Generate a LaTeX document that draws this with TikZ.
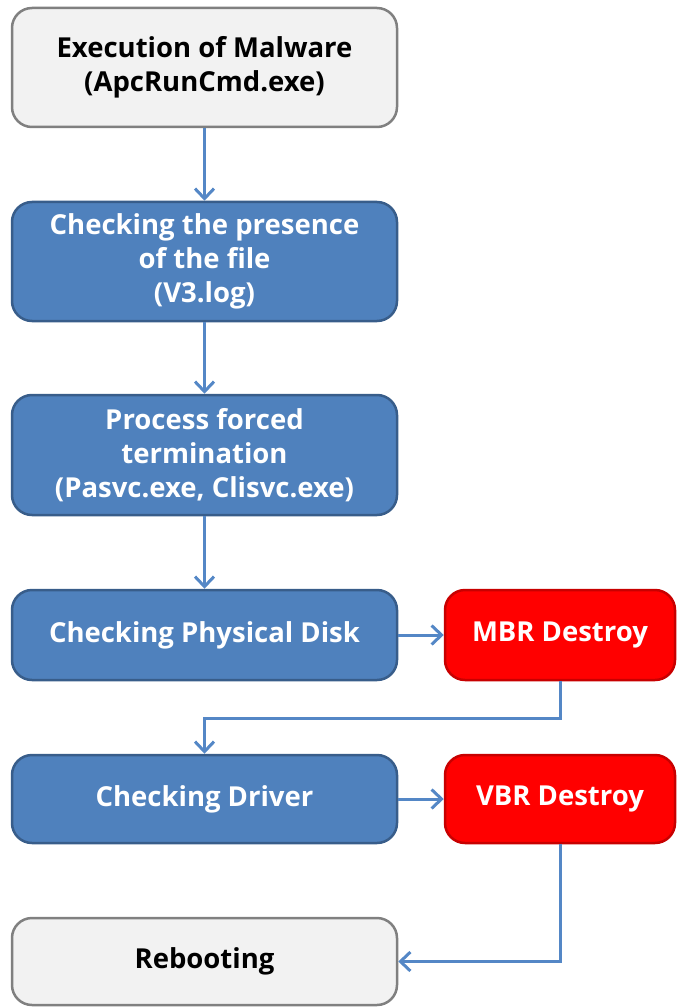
\documentclass[tikz,border=0pt]{standalone}
\usepackage{fontspec}
\setmainfont{Open Sans}
\usetikzlibrary{arrows.meta}
\definecolor{stepblue}{RGB}{79,129,189}
\definecolor{stepblueline}{RGB}{56,93,138}
\definecolor{stepgray}{RGB}{242,242,242}
\definecolor{stepgrayline}{RGB}{128,128,128}
\definecolor{stepred}{RGB}{255,0,0}
\definecolor{stepredline}{RGB}{200,0,0}
\definecolor{flowline}{RGB}{84,135,198}
\begin{document}
\begin{tikzpicture}[x=1pt, y=-1pt,
    box/.style={rounded corners=20pt, line width=2.5pt, align=center,
      font=\fontsize{27.5}{34}\selectfont\bfseries, inner sep=0pt},
    plainbox/.style={box, draw=stepgrayline, fill=stepgray, text=black},
    bluebox/.style={box, draw=stepblueline, fill=stepblue, text=white},
    redbox/.style={box, draw=stepredline, fill=stepred, text=white},
    flow/.style={draw=flowline, line width=3pt,
      -{Straight Barb[length=10pt, width=19pt, line width=3pt]}}]
  \useasboundingbox (0,0) rectangle (677,1008);
  % left column
  \node[plainbox, minimum width=385pt, minimum height=119pt] (exec) at (204.5,67.5)
    {Execution of Malware\\(ApcRunCmd.exe)};
  \node[bluebox, minimum width=385pt, minimum height=119pt] (chkfile) at (204.5,261.5)
    {Checking the presence\\of the file\\(V3.log)};
  \node[bluebox, minimum width=385pt, minimum height=120pt] (kill) at (204.5,455)
    {Process forced\\termination\\(Pasvc.exe, Clisvc.exe)};
  \node[bluebox, minimum width=385pt, minimum height=90pt] (chkdisk) at (204.5,635)
    {Checking Physical Disk};
  \node[bluebox, minimum width=385pt, minimum height=88pt] (chkdrv) at (204.5,799)
    {Checking Driver};
  \node[plainbox, minimum width=385pt, minimum height=87pt] (reboot) at (204.5,961.5)
    {Rebooting};
  % right column
  \node[redbox, minimum width=230pt, minimum height=90pt] (mbr) at (560,635)
    {MBR Destroy};
  \node[redbox, minimum width=230pt, minimum height=88pt] (vbr) at (560,799)
    {VBR Destroy};
  % connectors
  \draw[flow] (exec) -- (chkfile);
  \draw[flow] (chkfile) -- (kill);
  \draw[flow] (kill) -- (chkdisk);
  \draw[flow] (chkdisk) -- (mbr);
  \draw[flow] (mbr.south) -- ++(0,37) -| (chkdrv.north);
  \draw[flow] (chkdrv) -- (vbr);
  \draw[flow] (vbr.south) |- (reboot.east);
\end{tikzpicture}
\end{document}
